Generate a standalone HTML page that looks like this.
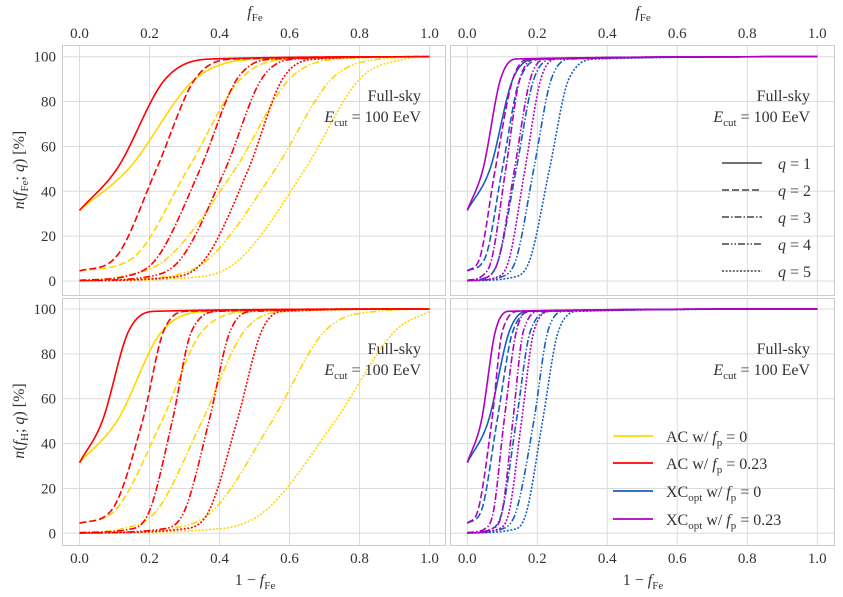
<!DOCTYPE html>
<html><head><meta charset="utf-8"><style>
html,body{margin:0;padding:0;background:#fff}
svg{display:block;font-family:"Liberation Serif",serif}
</style></head><body>
<svg id="fig" width="843" height="597" viewBox="0 0 843 597" xmlns="http://www.w3.org/2000/svg"></svg>
<script>
// ---- data ----
const levels = [2, 10, 50, 90, 99];
const startVals = [31.5, 4.5, 0.3, 0.1, 0.1];
const qLabels = ["1", "2", "3", "4", "5"];
const xTicks = [0, 0.2, 0.4, 0.6, 0.8, 1.0];
const xTickLabels = ["0.0", "0.2", "0.4", "0.6", "0.8", "1.0"];
const yTicks = [0, 20, 40, 60, 80, 100];
const yTickLabels = ["0", "20", "40", "60", "80", "100"];
// x positions at which each curve crosses the levels above (per q = 1..5)
const tlAC0 = [[null,null,0.14,0.33,0.52],[null,0.15,0.31,0.46,0.6],[0.12,0.25,0.445,0.6,0.74],[0.25,0.37,0.56,0.72,0.86],[0.35,0.46,0.645,0.8,0.93]];
const tlAC23 = [[null,null,0.107,0.245,0.38],[null,0.1,0.22,0.33,0.45],[0.13,0.22,0.345,0.45,0.56],[0.2,0.29,0.417,0.52,0.62],[0.28,0.36,0.483,0.58,0.68]];
const blAC0 = [[null,null,0.107,0.235,0.38],[null,0.1,0.235,0.35,0.5],[0.12,0.22,0.35,0.47,0.6],[0.25,0.38,0.55,0.7,0.85],[0.4,0.53,0.73,0.9,1.0]];
const blAC23 = [[null,null,0.065,0.14,0.22],[null,0.09,0.18,0.24,0.31],[0.15,0.2,0.265,0.32,0.4],[0.24,0.3,0.37,0.43,0.5],[0.3,0.37,0.45,0.52,0.58]];
const trXC0 = [[null,null,0.065,0.13,0.2],[null,0.05,0.1,0.15,0.22],[0.06,0.09,0.14,0.19,0.25],[0.1,0.14,0.19,0.24,0.3],[0.14,0.18,0.235,0.29,0.37]];
const trXC23 = [[null,null,0.045,0.095,0.14],[null,0.035,0.08,0.13,0.18],[0.04,0.07,0.11,0.15,0.2],[0.06,0.09,0.135,0.18,0.23],[0.09,0.12,0.165,0.21,0.26]];
const brXC0 = [[null,null,0.06,0.12,0.17],[null,0.04,0.085,0.13,0.19],[0.07,0.1,0.14,0.18,0.24],[0.1,0.14,0.19,0.23,0.28],[0.14,0.17,0.215,0.26,0.32]];
const brXC23 = [[null,null,0.04,0.08,0.12],[null,0.03,0.07,0.1,0.15],[0.05,0.075,0.105,0.14,0.18],[0.07,0.1,0.13,0.16,0.21],[0.09,0.12,0.155,0.19,0.24]];

const COLORS = {ac0:"#ffd700", ac23:"#ff0000", xc0:"#1560bd", xc23:"#b000c0"};
const DASH = ["", "7,3", "7,2,1.5,2", "7,2,1.5,2,1.5,2", "2,1.6"];

const NS = "http://www.w3.org/2000/svg";
const svg = document.getElementById("fig");
function mk(tag, attrs, parent){const e=document.createElementNS(NS,tag);for(const k in attrs)e.setAttribute(k,attrs[k]);(parent||svg).appendChild(e);return e;}

const panels = [
  {id:"top-left", x0:62, x1:446, y0:45, y1:296, ox:79.5, oy:281, series:[["ac0",tlAC0],["ac23",tlAC23]], ylabels:true, toplabels:true},
  {id:"top-right", x0:450, x1:835, y0:45, y1:296, ox:467.3, oy:281, series:[["xc0",trXC0],["xc23",trXC23]], ylabels:false, toplabels:true},
  {id:"bottom-left", x0:62, x1:446, y0:298, y1:546, ox:79.5, oy:533.3, series:[["ac0",blAC0],["ac23",blAC23]], ylabels:true, bottomlabels:true},
  {id:"bottom-right", x0:450, x1:835, y0:298, y1:546, ox:467.3, oy:533.3, series:[["xc0",brXC0],["xc23",brXC23]], ylabels:false, bottomlabels:true}
];
const XS = 350, YS = 2.243;

function monotone(xs, ys){
  const n=xs.length, d=[], m=new Array(n);
  for(let i=0;i<n-1;i++) d.push((ys[i+1]-ys[i])/(xs[i+1]-xs[i]));
  m[0]=d[0]; m[n-1]=d[n-2];
  for(let i=1;i<n-1;i++) m[i]=(d[i-1]*d[i]<=0)?0:(d[i-1]+d[i])/2;
  for(let i=0;i<n-1;i++){
    if(d[i]===0){m[i]=0;m[i+1]=0;continue;}
    const a=m[i]/d[i], b=m[i+1]/d[i], s=a*a+b*b;
    if(s>9){const t=3/Math.sqrt(s);m[i]=t*a*d[i];m[i+1]=t*b*d[i];}
  }
  return function(x){
    let i=0; while(i<n-2 && x>xs[i+1]) i++;
    const h=xs[i+1]-xs[i], t=(x-xs[i])/h, t2=t*t, t3=t2*t;
    return (2*t3-3*t2+1)*ys[i]+(t3-2*t2+t)*h*m[i]+(-2*t3+3*t2)*ys[i+1]+(t3-t2)*h*m[i+1];
  };
}

panels.forEach(p=>{
  const g = mk("g",{});
  
  
  const sx = v=>p.ox+v*XS, sy = v=>p.oy-v*YS;
  xTicks.forEach(t=>{const l=mk("line",{x1:sx(t),x2:sx(t),y1:p.y0,y2:p.y1,stroke:"#dcdcdc","stroke-width":1},g);
    });
  yTicks.forEach(t=>{const l=mk("line",{x1:p.x0,x2:p.x1,y1:sy(t),y2:sy(t),stroke:"#dcdcdc","stroke-width":1},g);
    });
  const fr=mk("rect",{x:p.x0+0.5,y:p.y0+0.5,width:p.x1-p.x0-1,height:p.y1-p.y0-1,fill:"none",stroke:"#cccccc","stroke-width":1},g);
  
  p.series.forEach(([key,arr])=>{
    arr.forEach((xsAt,qi)=>{
      const y0=startVals[qi]; const xs=[0], ys=[y0];
      levels.forEach((lv,li)=>{const xv=xsAt[li]; if(xv!==null && lv>y0 && xv>xs[xs.length-1]){xs.push(xv);ys.push(lv);}});
      if(xs[xs.length-1]<1){xs.push(1);ys.push(100);}
      const f=monotone(xs,ys); let d="";
      for(let k=0;k<=400;k++){const xv=k/400; let yv=Math.max(0,Math.min(100,f(xv))); d+=(k?"L":"M")+sx(xv).toFixed(2)+","+sy(yv).toFixed(2);}
      const path=mk("path",{d:d,fill:"none",stroke:COLORS[key],"stroke-width":1.6,"stroke-dasharray":DASH[qi]},g);
      
      
    });
  });
  if(p.ylabels) yTicks.forEach((t,i)=>{const tx=mk("text",{x:56,y:sy(t)+5,"text-anchor":"end","font-size":15,fill:"#333"},g);tx.textContent=yTickLabels[i];
    });
  if(p.toplabels) xTicks.forEach((t,i)=>{const tx=mk("text",{x:sx(t),y:38,"text-anchor":"middle","font-size":15,fill:"#333"},g);tx.textContent=xTickLabels[i];
    });
  if(p.bottomlabels) xTicks.forEach((t,i)=>{const tx=mk("text",{x:sx(t),y:563,"text-anchor":"middle","font-size":15,fill:"#333"},g);tx.textContent=xTickLabels[i];
    });
  const ax = p.x1-25, ay = p.y0+56;
  const a1=mk("text",{x:ax,y:ay,"text-anchor":"end","font-size":16,fill:"#333"},g);a1.textContent="Full-sky";
  
  const a2=mk("text",{x:ax,y:ay+21,"text-anchor":"end","font-size":16,fill:"#333"},g);
  a2.innerHTML='<tspan font-style="italic">E</tspan><tspan font-size="11" dy="4">cut</tspan><tspan dy="-4"> = 100 EeV</tspan>';
  
});
</script>
<script>
(function(){
  const s=document.getElementById("fig");
  s.insertAdjacentHTML("beforeend",`
  <text x="255" y="17" text-anchor="middle" font-size="16" fill="#333"><tspan font-style="italic">f</tspan><tspan font-size="11" dy="4">Fe</tspan></text>
  <text x="643" y="17" text-anchor="middle" font-size="16" fill="#333"><tspan font-style="italic">f</tspan><tspan font-size="11" dy="4">Fe</tspan></text>
  <text x="255" y="585" text-anchor="middle" font-size="16" fill="#333">1 − <tspan font-style="italic">f</tspan><tspan font-size="11" dy="4">Fe</tspan></text>
  <text x="643" y="585" text-anchor="middle" font-size="16" fill="#333">1 − <tspan font-style="italic">f</tspan><tspan font-size="11" dy="4">Fe</tspan></text>
  <text transform="translate(24,170) rotate(-90)" text-anchor="middle" font-size="16" fill="#333"><tspan font-style="italic">n</tspan>(<tspan font-style="italic">f</tspan><tspan font-size="11" dy="4">Fe</tspan><tspan dy="-4">; </tspan><tspan font-style="italic">q</tspan>) [%]</text>
  <text transform="translate(24,421) rotate(-90)" text-anchor="middle" font-size="16" fill="#333"><tspan font-style="italic">n</tspan>(<tspan font-style="italic">f</tspan><tspan font-size="11" dy="4">H</tspan><tspan dy="-4">; </tspan><tspan font-style="italic">q</tspan>) [%]</text>
  <g font-size="16" fill="#333">
    <line x1="722" x2="762" y1="163" y2="163" stroke="#444" stroke-width="1.4"/>
    <text x="778" y="169"><tspan font-style="italic">q</tspan> = 1</text>
    <line x1="722" x2="762" y1="190" y2="190" stroke="#444" stroke-width="1.4" stroke-dasharray="7,3"/>
    <text x="778" y="196"><tspan font-style="italic">q</tspan> = 2</text>
    <line x1="722" x2="762" y1="217" y2="217" stroke="#444" stroke-width="1.4" stroke-dasharray="7,2,1.5,2"/>
    <text x="778" y="223"><tspan font-style="italic">q</tspan> = 3</text>
    <line x1="722" x2="762" y1="244" y2="244" stroke="#444" stroke-width="1.4" stroke-dasharray="7,2,1.5,2,1.5,2"/>
    <text x="778" y="250"><tspan font-style="italic">q</tspan> = 4</text>
    <line x1="722" x2="762" y1="271" y2="271" stroke="#444" stroke-width="1.4" stroke-dasharray="2,1.6"/>
    <text x="778" y="277"><tspan font-style="italic">q</tspan> = 5</text>
  </g>
  <g font-size="16" fill="#333">
    <line x1="613" x2="653" y1="436" y2="436" stroke="#ffd700" stroke-width="1.8"/>
    <text x="666" y="442">AC w/ <tspan font-style="italic">f</tspan><tspan font-size="11" dy="4">p</tspan><tspan dy="-4"> = 0</tspan></text>
    <line x1="613" x2="653" y1="463" y2="463" stroke="#ff0000" stroke-width="1.8"/>
    <text x="666" y="469">AC w/ <tspan font-style="italic">f</tspan><tspan font-size="11" dy="4">p</tspan><tspan dy="-4"> = 0.23</tspan></text>
    <line x1="613" x2="653" y1="491" y2="491" stroke="#1560bd" stroke-width="1.8"/>
    <text x="666" y="497">XC<tspan font-size="11" dy="4">opt</tspan><tspan dy="-4"> w/ </tspan><tspan font-style="italic">f</tspan><tspan font-size="11" dy="4">p</tspan><tspan dy="-4"> = 0</tspan></text>
    <line x1="613" x2="653" y1="519" y2="519" stroke="#b000c0" stroke-width="1.8"/>
    <text x="666" y="525">XC<tspan font-size="11" dy="4">opt</tspan><tspan dy="-4"> w/ </tspan><tspan font-style="italic">f</tspan><tspan font-size="11" dy="4">p</tspan><tspan dy="-4"> = 0.23</tspan></text>
  </g>`);
})();
</script>
</body></html>
